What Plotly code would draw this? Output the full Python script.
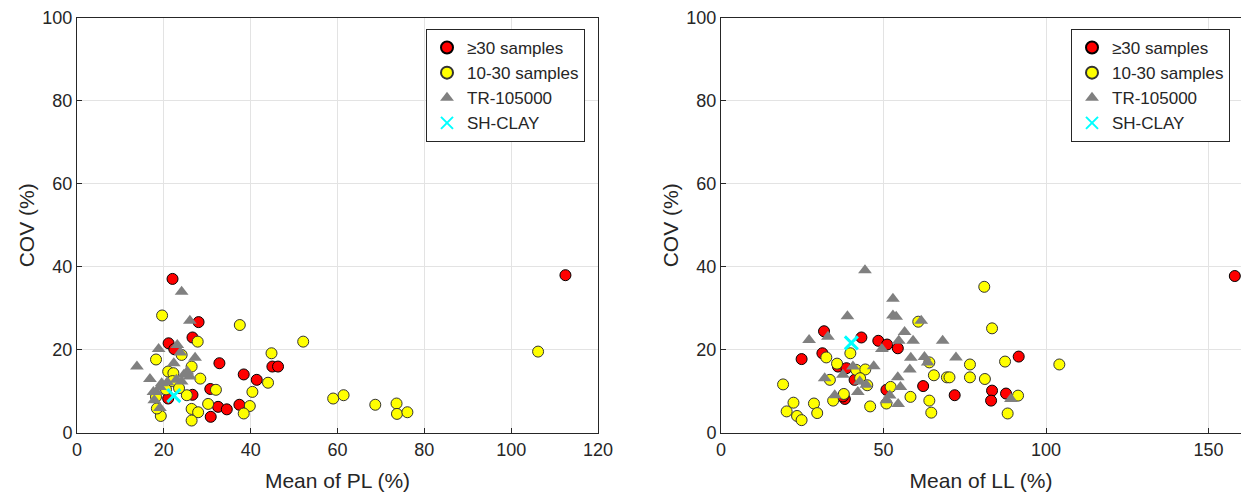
import plotly.graph_objects as go

# ---------------- Data (left panel: Mean of PL vs COV) ----------------
pl_red_x = [22.0, 28.0, 21.1, 22.4, 26.6, 32.8, 45.0, 46.3, 38.4, 41.4, 30.7, 26.6,
            21.0, 32.5, 34.5, 37.4, 30.8, 112.5]
pl_red_y = [37.1, 26.7, 21.6, 20.2, 23.0, 16.8, 16.0, 16.0, 14.1, 12.8, 10.6, 9.2,
            8.3, 6.3, 5.7, 6.8, 3.9, 38.0]

pl_yel_x = [19.6, 37.5, 52.1, 27.8, 44.8, 18.2, 44.0, 40.4, 28.4, 32.0, 25.3, 30.2,
            39.8, 38.4, 26.4, 27.9, 26.4, 19.3, 18.4, 18.2, 21.0, 22.2, 26.4, 24.1,
            20.5, 22.0, 23.5, 106.2, 59.0, 61.4, 68.7, 73.6, 73.7, 76.1]
pl_yel_y = [28.3, 26.0, 22.0, 22.0, 19.2, 17.7, 12.1, 9.9, 13.1, 10.4, 9.1, 7.0,
            6.5, 4.7, 5.8, 5.0, 3.0, 4.1, 5.9, 8.7, 14.8, 14.4, 16.0, 18.8,
            10.5, 12.5, 10.8, 19.6, 8.3, 9.1, 6.8, 7.1, 4.6, 5.0]

pl_tr_x = [24.1, 26.0, 18.8, 23.1, 23.8, 27.2, 13.8, 22.3, 16.8, 25.4, 24.6, 26.0,
           19.5, 20.8, 22.9, 18.3, 17.8, 19.1, 24.1, 19.1, 17.6]
pl_tr_y = [34.0, 27.0, 20.2, 21.2, 19.4, 18.1, 16.0, 16.8, 13.0, 14.8, 14.0, 13.6,
           12.0, 12.2, 12.8, 9.9, 7.9, 6.0, 12.4, 11.1, 9.9]

pl_sh_x = [22.3]
pl_sh_y = [9.0]

# ---------------- Data (right panel: Mean of LL vs COV) ----------------
ll_red_x = [31.7, 24.8, 31.2, 43.2, 48.4, 51.1, 54.4, 36.0, 38.6, 41.1, 38.1, 50.9,
            62.2, 71.9, 91.6, 83.4, 83.1, 87.7, 158.1, 37.5]
ll_red_y = [24.5, 17.8, 19.2, 23.0, 22.2, 21.3, 20.4, 16.0, 15.6, 12.8, 8.2, 10.4,
            11.3, 9.1, 18.4, 10.2, 7.8, 9.5, 37.8, 8.8]

ll_yel_x = [19.1, 22.3, 20.2, 23.4, 24.8, 28.6, 29.6, 32.4, 35.7, 39.8, 33.5, 34.5,
            37.8, 41.6, 44.4, 42.8, 45.0, 45.9, 50.9, 52.2, 58.3, 60.7, 64.1, 64.1,
            64.7, 65.5, 69.5, 81.0, 83.4, 76.6, 87.4, 70.3, 76.6, 81.2, 91.4, 88.2,
            104.1]
ll_yel_y = [11.7, 7.3, 5.2, 4.1, 3.1, 7.1, 4.8, 18.2, 16.7, 19.2, 12.8, 7.8,
            9.4, 15.2, 15.3, 13.2, 11.5, 6.4, 7.1, 11.1, 8.7, 26.8, 17.0, 7.8,
            4.9, 13.9, 13.4, 35.2, 25.2, 16.5, 17.2, 13.4, 13.4, 13.0, 9.0, 4.7,
            16.5]

ll_tr_x = [44.3, 52.9, 52.9, 53.9, 38.9, 61.6, 27.1, 32.9, 56.5, 59.1, 68.2, 54.7,
           49.5, 58.4, 62.6, 72.3, 47.0, 40.6, 37.5, 31.9, 58.1, 54.4, 55.2, 63.6,
           42.7, 44.7, 42.1, 35.0, 51.9, 50.9, 54.5, 89.2]
ll_tr_y = [39.2, 32.3, 28.3, 28.0, 28.1, 27.0, 22.4, 23.2, 24.3, 22.2, 22.2, 22.2,
           20.2, 18.1, 18.3, 18.2, 16.1, 16.0, 14.0, 13.2, 15.3, 13.4, 11.1, 17.0,
           12.4, 11.6, 9.9, 9.1, 9.0, 7.9, 7.0, 8.2]

ll_sh_x = [40.1]
ll_sh_y = [21.7]

# ---------------- Styling ----------------
FONT = "Arial, 'Liberation Sans', sans-serif"
TXT = "#262626"
RED = "#FF0000"
YEL = "#FFFF00"
GRAY = "#808080"
CYAN = "#00FFFF"

fig = go.Figure()


def add_panel(xr, yr, xy, yy, xt, yt, xs, ys, xa, ya, legend):
    fig.add_trace(go.Scatter(
        x=xr, y=yr, mode="markers", name="≥30 samples", xaxis=xa, yaxis=ya,
        legend=legend,
        marker=dict(symbol="circle", size=11, color=RED,
                    line=dict(color="#000000", width=1))))
    fig.add_trace(go.Scatter(
        x=xy, y=yy, mode="markers", name="10-30 samples", xaxis=xa, yaxis=ya,
        legend=legend,
        marker=dict(symbol="circle", size=11, color=YEL,
                    line=dict(color="#333333", width=1))))
    fig.add_trace(go.Scatter(
        x=xt, y=yt, mode="markers", name="TR-105000", xaxis=xa, yaxis=ya,
        legend=legend,
        marker=dict(symbol="triangle-up", size=12, color=GRAY,
                    line=dict(width=0))))
    fig.add_trace(go.Scatter(
        x=xs, y=ys, mode="markers", name="SH-CLAY", xaxis=xa, yaxis=ya,
        legend=legend,
        marker=dict(symbol="x-thin", size=13, color=CYAN,
                    line=dict(color=CYAN, width=3))))


add_panel(pl_red_x, pl_red_y, pl_yel_x, pl_yel_y, pl_tr_x, pl_tr_y,
          pl_sh_x, pl_sh_y, "x", "y", "legend")
add_panel(ll_red_x, ll_red_y, ll_yel_x, ll_yel_y, ll_tr_x, ll_tr_y,
          ll_sh_x, ll_sh_y, "x2", "y2", "legend2")

W, H = 1241, 498
y_dom = [1 - 433 / H, 1 - 17.7 / H]

axis_common = dict(
    showline=True, linecolor=TXT, linewidth=1, mirror=True,
    showgrid=True, gridcolor="#E3E3E3", gridwidth=1,
    zeroline=False, ticks="inside", ticklen=5, tickcolor=TXT,
    tickfont=dict(family=FONT, size=18, color=TXT),
    automargin=False,
)
title_font = dict(family=FONT, size=21, color=TXT)

legend_common = dict(
    bgcolor="white", bordercolor="#262626", borderwidth=1,
    font=dict(family=FONT, size=17, color=TXT),
    itemsizing="constant", xanchor="right", yanchor="top",
    tracegroupgap=0, itemwidth=30,
)

fig.update_layout(
    width=W, height=H,
    margin=dict(l=0, r=0, t=0, b=0),
    paper_bgcolor="white", plot_bgcolor="white",
    font=dict(family=FONT, color=TXT),
    xaxis=dict(domain=[77 / W, 598 / W], range=[0, 120], dtick=20, anchor="y",
               title=dict(text="Mean of PL (%)", font=title_font, standoff=14),
               **axis_common),
    yaxis=dict(domain=y_dom, range=[0, 100], dtick=20, anchor="x",
               title=dict(text="COV (%)", font=title_font, standoff=1),
               **axis_common),
    xaxis2=dict(domain=[721 / W, 1.0], range=[0, 160], tickvals=[0, 50, 100, 150], anchor="y2",
                title=dict(text="Mean of LL (%)", font=title_font, standoff=14),
                **axis_common),
    yaxis2=dict(domain=y_dom, range=[0, 100], dtick=20, anchor="x2",
                title=dict(text="COV (%)", font=title_font, standoff=1),
                **axis_common),
    legend=dict(x=585 / W, y=1 - 29 / H, **legend_common),
    legend2=dict(x=1230 / W, y=1 - 29 / H, **legend_common),
)

fig.write_html("out.html")
